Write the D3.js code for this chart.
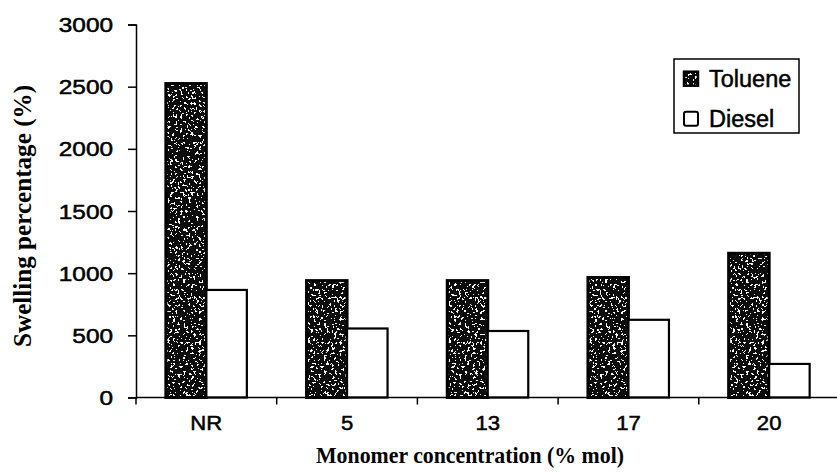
<!DOCTYPE html>
<html>
<head>
<meta charset="utf-8">
<script src="https://cdn.jsdelivr.net/npm/d3@7"></script>
<style>
  html, body { margin: 0; padding: 0; background: #fff; }
  svg { display: block; }
</style>
</head>
<body>
<svg id="chart" width="837" height="475"></svg>
<script>
// Swelling percentage by monomer concentration, toluene vs diesel
const categories = ["NR", "5", "13", "17", "20"];
const seriesNames = ["Toluene", "Diesel"];
const toluene = [2525, 940, 940, 965, 1160];
const diesel = [865, 555, 535, 625, 270];
const yTicks = [0, 500, 1000, 1500, 2000, 2500, 3000];

const svg = d3.select("#chart");
const sans = "Arial, 'Liberation Sans', sans-serif";
const serif = "'Times New Roman', 'Liberation Serif', serif";

const plot = { left: 136, right: 839.5, top: 24.5, bottom: 397.5 };

const x = d3.scaleBand().domain(categories).range([plot.left, plot.right]).padding(0);
const xs = d3.scaleBand().domain(seriesNames).range([0, x.bandwidth()])
  .paddingInner(0).paddingOuter(0.737);
const y = d3.scaleLinear().domain([0, 3000]).range([plot.bottom, plot.top]);

// grainy fill for the toluene bars
const defs = svg.append("defs");
const f = defs.append("filter").attr("id", "grain")
  .attr("x", "0").attr("y", "0").attr("width", "1").attr("height", "1");
f.append("feTurbulence").attr("type", "fractalNoise").attr("baseFrequency", "0.38")
  .attr("numOctaves", 3).attr("seed", 7).attr("result", "noise");
f.append("feColorMatrix").attr("in", "noise").attr("type", "matrix")
  .attr("values", "0 0 0 0 1  0 0 0 0 1  0 0 0 0 1  1.8 0 0 0 -0.42").attr("result", "n2");
const ct = f.append("feComponentTransfer").attr("in", "n2").attr("result", "speck");
ct.append("feFuncA").attr("type", "discrete").attr("tableValues", "0 0 0 0 0 0 0 0.85 1 1");
f.append("feComposite").attr("in", "speck").attr("in2", "SourceGraphic")
  .attr("operator", "in").attr("result", "speckIn");
const m = f.append("feMerge");
m.append("feMergeNode").attr("in", "SourceGraphic");
m.append("feMergeNode").attr("in", "speckIn");

const rows = categories.map((c, i) => ({ cat: c, Toluene: toluene[i], Diesel: diesel[i] }));

// bars
const groups = svg.append("g").selectAll("g").data(rows).join("g")
  .attr("transform", d => `translate(${x(d.cat)},0)`);

groups.append("rect")
  .attr("x", xs("Toluene")).attr("width", xs.bandwidth())
  .attr("y", d => y(d.Toluene)).attr("height", d => y(0) - y(d.Toluene))
  .attr("fill", "#0c0c0c").attr("filter", "url(#grain)");
groups.append("rect")
  .attr("x", xs("Toluene")).attr("width", xs.bandwidth())
  .attr("y", d => y(d.Toluene)).attr("height", d => y(0) - y(d.Toluene))
  .attr("fill", "none").attr("stroke", "#000").attr("stroke-width", 3);
groups.append("rect")
  .attr("x", xs("Diesel")).attr("width", xs.bandwidth())
  .attr("y", d => y(d.Diesel)).attr("height", d => y(0) - y(d.Diesel))
  .attr("fill", "#fff").attr("stroke", "#000").attr("stroke-width", 2.2);

// y axis
const yAxis = svg.append("g").attr("transform", `translate(${plot.left},0)`)
  .call(d3.axisLeft(y).tickValues(yTicks).tickSize(8).tickPadding(0).tickFormat(d3.format("d")));
yAxis.select(".domain").attr("stroke", "#000").attr("stroke-width", 1.5);
yAxis.selectAll(".tick line").attr("stroke", "#000").attr("stroke-width", 1.5);
yAxis.selectAll(".tick text")
  .attr("x", null)
  .attr("transform", "translate(-23,0) scale(1.25,1)")
  .attr("dy", "0.36em")
  .attr("font-family", sans).attr("font-size", 19.5).attr("font-weight", "normal")
  .attr("fill", "#000").attr("stroke", "#000").attr("stroke-width", 0.5);

// x axis line across the full width
svg.append("line")
  .attr("x1", plot.left).attr("x2", 837).attr("y1", plot.bottom).attr("y2", plot.bottom)
  .attr("stroke", "#000").attr("stroke-width", 1.5);

// category boundary ticks
const bounds = categories.map(c => x(c));
svg.append("g").selectAll("line").data(bounds).join("line")
  .attr("x1", d => d).attr("x2", d => d)
  .attr("y1", plot.bottom).attr("y2", plot.bottom + 7)
  .attr("stroke", "#000").attr("stroke-width", 1.5);

// category labels
svg.append("g").selectAll("text").data(categories).join("text")
  .attr("transform", d => `translate(${x(d) + x.bandwidth() / 2},430) scale(1.08,1)`)
  .attr("text-anchor", "middle")
  .attr("font-family", sans).attr("font-size", 20.5)
  .attr("stroke", "#000").attr("stroke-width", 0.5)
  .text(d => d);

// axis titles
svg.append("text")
  .attr("x", 470).attr("y", 463)
  .attr("text-anchor", "middle")
  .attr("font-family", serif).attr("font-weight", "bold").attr("font-size", 22.5)
  .attr("textLength", 308).attr("lengthAdjust", "spacingAndGlyphs")
  .text("Monomer concentration (% mol)");

svg.append("text")
  .attr("transform", "translate(31,216) rotate(-90)")
  .attr("text-anchor", "middle")
  .attr("font-family", serif).attr("font-weight", "bold").attr("font-size", 25)
  .attr("textLength", 262).attr("lengthAdjust", "spacingAndGlyphs")
  .text("Swelling percentage (%)");

// legend
const lg = svg.append("g");
lg.append("rect").attr("x", 674).attr("y", 59).attr("width", 125).attr("height", 74)
  .attr("fill", "#fff").attr("stroke", "#000").attr("stroke-width", 1.5);
const rowsY = [78.7, 118.7];
seriesNames.forEach((s, i) => {
  const cy = rowsY[i];
  if (s === "Toluene") {
    lg.append("rect").attr("x", 684).attr("y", cy - 7).attr("width", 14).attr("height", 14)
      .attr("fill", "#0c0c0c").attr("filter", "url(#grain)");
    lg.append("rect").attr("x", 684).attr("y", cy - 7).attr("width", 14).attr("height", 14)
      .attr("fill", "none").attr("stroke", "#000").attr("stroke-width", 2.5);
  } else {
    lg.append("rect").attr("x", 684).attr("y", cy - 7).attr("width", 14).attr("height", 14)
      .attr("rx", 2).attr("fill", "#fff").attr("stroke", "#000").attr("stroke-width", 2);
  }
  lg.append("text").attr("x", 709).attr("y", cy).attr("dy", "0.36em")
    .attr("font-family", sans).attr("font-size", 23.5)
    .attr("stroke", "#000").attr("stroke-width", 0.5)
    .text(s);
});
</script>
</body>
</html>
